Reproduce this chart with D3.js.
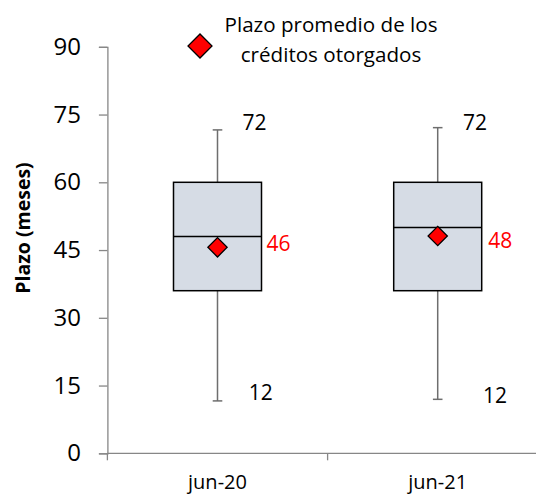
<!DOCTYPE html>
<html>
<head>
<meta charset="utf-8">
<script src="https://cdn.jsdelivr.net/npm/d3@7"></script>
<style>
  body { margin: 0; background: #fff; }
  svg { display: block; font-family: "Open Sans", sans-serif; }
</style>
</head>
<body>
<svg id="chart" width="536" height="495"></svg>
<script>
// data
const categories = ["jun-20", "jun-21"];
const whiskerLow = [11.6, 11.95];
const q1 = [36, 36];
const median = [48, 50];
const q3 = [60, 60];
const whiskerHigh = [71.6, 72.1];
const means = [45.6, 48.1];
const lowLabels = ["12", "12"];
const highLabels = ["72", "72"];
const meanLabels = ["46", "48"];
const yTicks = [0, 15, 30, 45, 60, 75, 90];

const svg = d3.select("#chart");
const width = 536, height = 495;
// the plot area runs a little past the right edge of the picture
const plot = { left: 107.4, right: 547.8, top: 46.8, bottom: 453.3 };

const x = d3.scaleBand()
  .domain(categories)
  .range([plot.left, plot.right])
  .padding(0);

const y = d3.scaleLinear()
  .domain([0, 90])
  .range([plot.bottom, plot.top]);

const axisColor = "#878787";

// y axis
const yAxis = svg.append("g")
  .attr("transform", `translate(${plot.left},0)`)
  .call(d3.axisLeft(y).tickValues(yTicks).tickSize(8.5).tickPadding(18));
yAxis.select(".domain").attr("stroke", axisColor).attr("stroke-width", 1.3);
yAxis.selectAll(".tick line").attr("stroke", axisColor).attr("stroke-width", 1.3);
yAxis.selectAll(".tick text")
  .attr("font-size", 24)
  .attr("fill", "#000")
  .attr("font-family", "Open Sans, sans-serif");

// x axis (ticks at band edges)
const xBase = y(0);
svg.append("line")
  .attr("x1", plot.left).attr("x2", width)
  .attr("y1", xBase).attr("y2", xBase)
  .attr("stroke", axisColor).attr("stroke-width", 1.3);
const edges = categories.map(c => x(c));
svg.selectAll(".xtick").data(edges).enter().append("line")
  .attr("x1", d => d).attr("x2", d => d)
  .attr("y1", xBase).attr("y2", xBase + 7)
  .attr("stroke", axisColor).attr("stroke-width", 1.3);
svg.selectAll(".xlabel").data(categories).enter().append("text")
  .attr("x", d => x(d) + x.bandwidth() / 2)
  .attr("y", 489)
  .attr("text-anchor", "middle")
  .attr("font-size", 20)
  .text(d => d);

// y title
svg.append("text")
  .attr("transform", "translate(29.5,228) rotate(-90)")
  .attr("text-anchor", "middle")
  .attr("font-size", 19.5)
  .attr("font-weight", "bold")
  .text("Plazo (meses)");

const boxW = 88;
const cx = i => x(categories[i]) + x.bandwidth() / 2;

categories.forEach((c, i) => {
  const g = svg.append("g");
  // whisker
  g.append("line")
    .attr("x1", cx(i)).attr("x2", cx(i))
    .attr("y1", y(whiskerLow[i])).attr("y2", y(whiskerHigh[i]))
    .attr("stroke", "#6e6e6e").attr("stroke-width", 1.5);
  [whiskerLow[i], whiskerHigh[i]].forEach(v => {
    g.append("line")
      .attr("x1", cx(i) - 4.8).attr("x2", cx(i) + 4.8)
      .attr("y1", y(v)).attr("y2", y(v))
      .attr("stroke", "#6e6e6e").attr("stroke-width", 1.5);
  });
  // box
  g.append("rect")
    .attr("x", cx(i) - boxW / 2)
    .attr("y", y(q3[i]))
    .attr("width", boxW)
    .attr("height", y(q1[i]) - y(q3[i]))
    .attr("fill", "#d6dce5")
    .attr("stroke", "#000")
    .attr("stroke-width", 1.5);
  g.append("line")
    .attr("x1", cx(i) - boxW / 2).attr("x2", cx(i) + boxW / 2)
    .attr("y1", y(median[i])).attr("y2", y(median[i]))
    .attr("stroke", "#000").attr("stroke-width", 1.5);
  // mean diamond
  g.append("path")
    .attr("d", d3.symbol().type(d3.symbolSquare).size(186)())
    .attr("transform", `translate(${cx(i)},${y(means[i])}) rotate(45)`)
    .attr("fill", "#ff0000")
    .attr("stroke", "#000")
    .attr("stroke-width", 1.3);
});

// data labels (offsets as in the original)
const highDx = [25, 25.4], highDy = [-8.3, -6];
const lowDx = [31.2, 45.3], lowDy = [-9, -4.3];
const meanDx = [49, 50.6], meanDy = [-4.3, 4];
categories.forEach((c, i) => {
  svg.append("text")
    .attr("x", cx(i) + highDx[i]).attr("y", y(whiskerHigh[i]) + highDy[i])
    .attr("dominant-baseline", "central")
    .attr("font-size", 21)
    .text(highLabels[i]);
  svg.append("text")
    .attr("x", cx(i) + lowDx[i]).attr("y", y(whiskerLow[i]) + lowDy[i])
    .attr("dominant-baseline", "central")
    .attr("font-size", 21)
    .text(lowLabels[i]);
  svg.append("text")
    .attr("x", cx(i) + meanDx[i]).attr("y", y(means[i]) + meanDy[i])
    .attr("dominant-baseline", "central")
    .attr("font-size", 21)
    .attr("fill", "#ff0000")
    .text(meanLabels[i]);
});

// legend
svg.append("path")
  .attr("d", d3.symbol().type(d3.symbolSquare).size(288)())
  .attr("transform", "translate(200,46) rotate(45)")
  .attr("fill", "#ff0000")
  .attr("stroke", "#000")
  .attr("stroke-width", 1.3);
const leg = svg.append("text")
  .attr("text-anchor", "middle")
  .attr("font-size", 20.6);
leg.append("tspan").attr("x", 331).attr("y", 31.7).text("Plazo promedio de los");
leg.append("tspan").attr("x", 331).attr("y", 61.7).text("créditos otorgados");
</script>
</body>
</html>
